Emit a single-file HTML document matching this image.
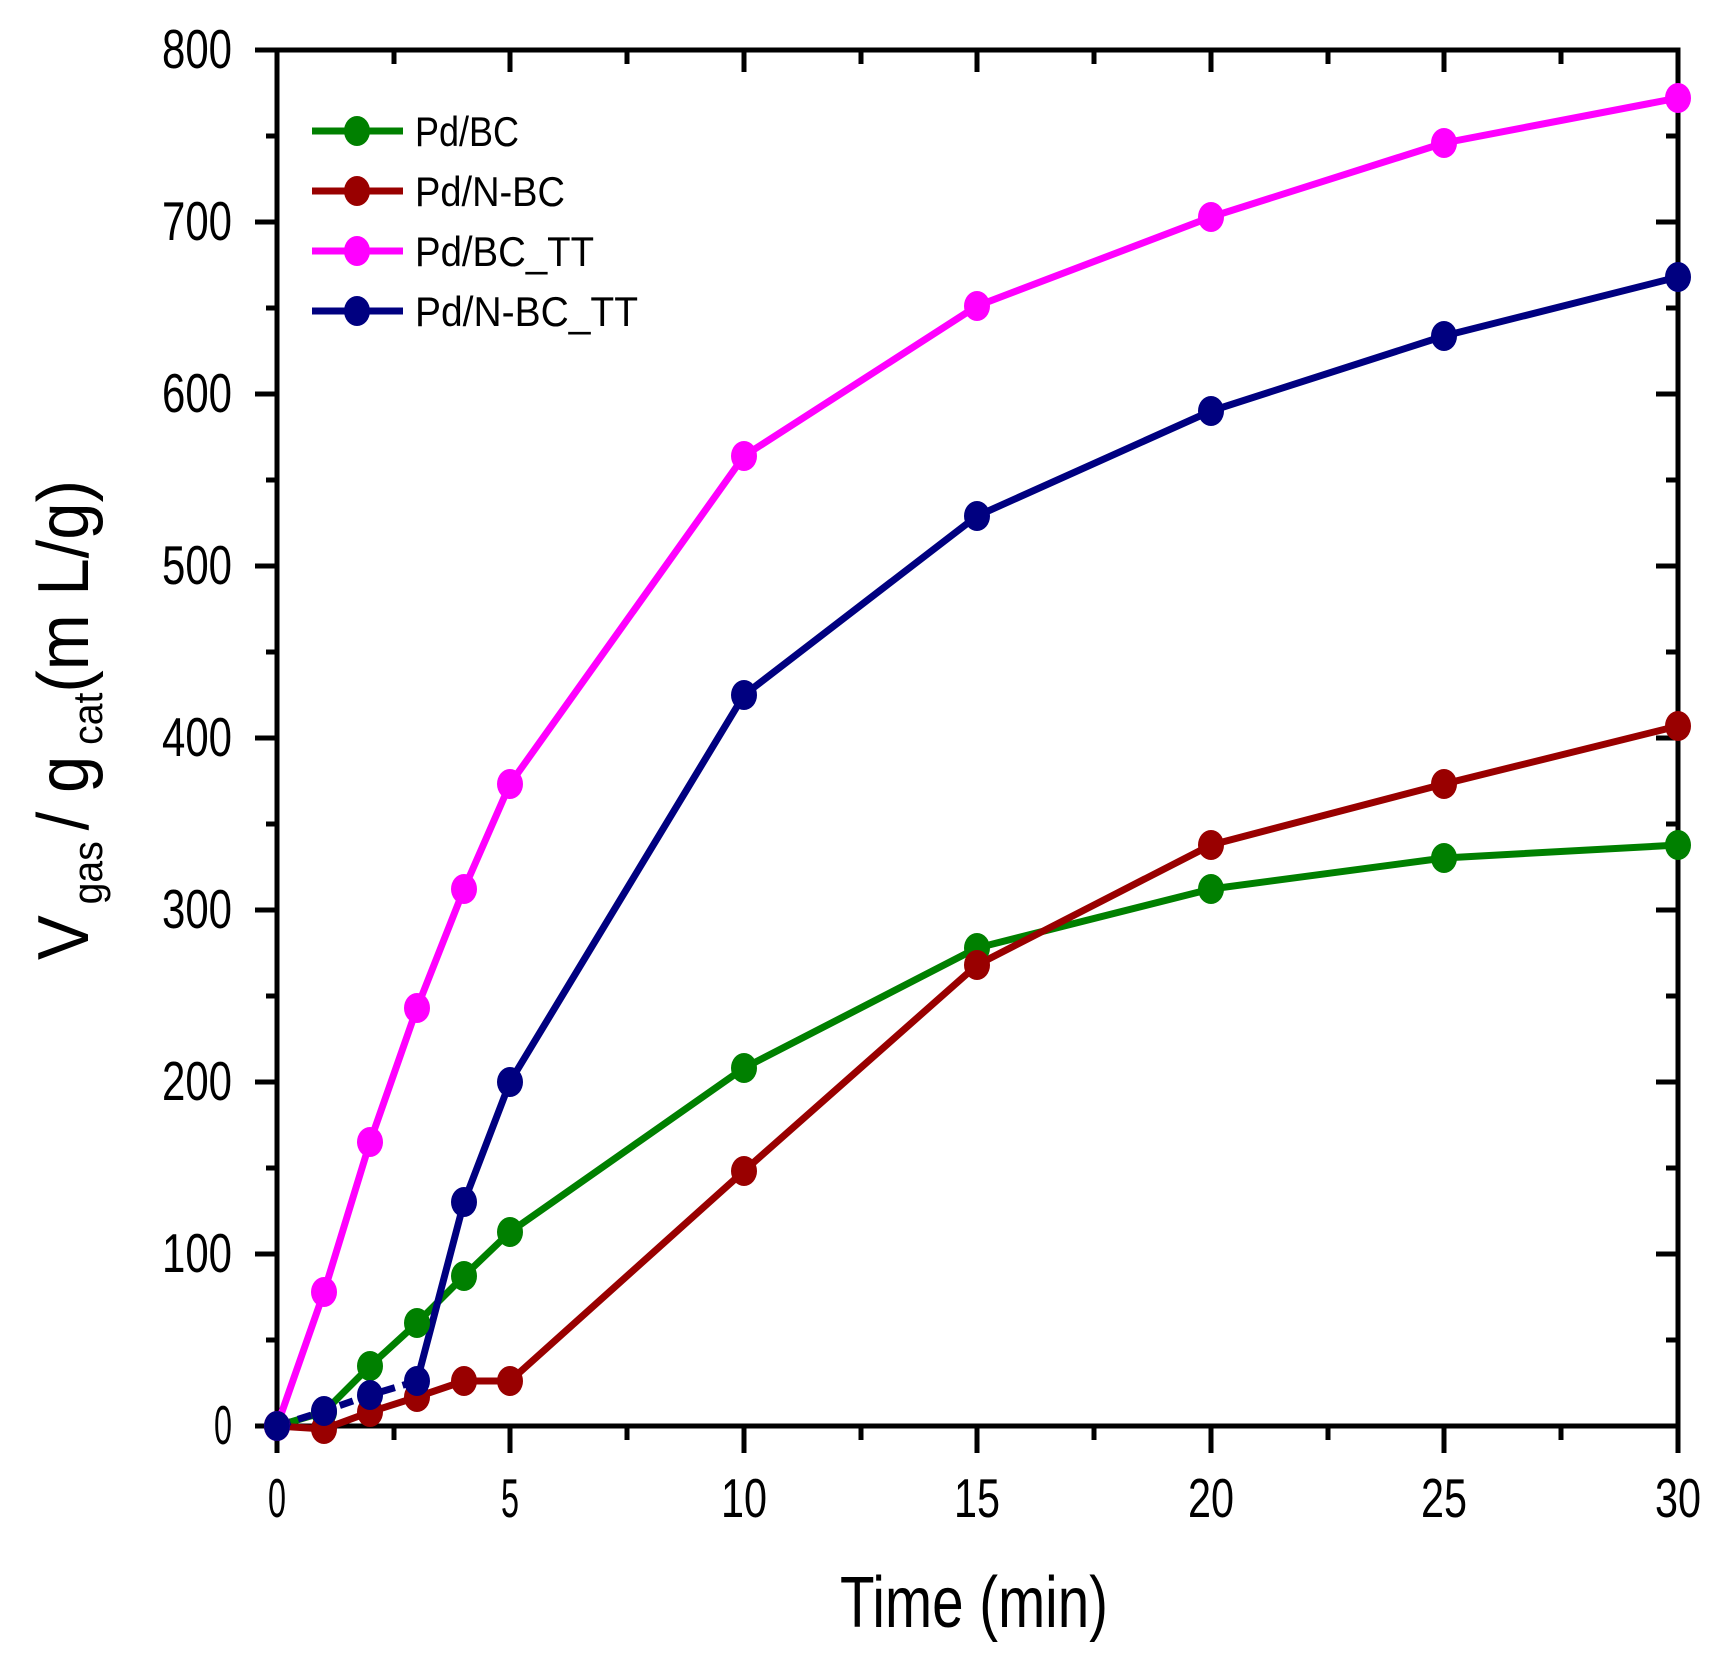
<!DOCTYPE html>
<html><head><meta charset="utf-8"><style>html,body{margin:0;padding:0;background:#fff}svg{display:block}</style></head>
<body>
<svg width="1727" height="1660" viewBox="0 0 1727 1660" xmlns="http://www.w3.org/2000/svg" font-family="Liberation Sans, sans-serif">
<rect width="1727" height="1660" fill="#fff"/>
<g stroke="#000" stroke-width="5">
<path d="M255 50H277M266 136H277M255 222H277M266 308H277M255 394H277M266 480H277M255 566H277M266 652H277M255 738H277M266 824H277M255 910H277M266 996H277M255 1082H277M266 1168H277M255 1254H277M266 1340H277M255 1426H277"/>
<path d="M1666 136H1678M1656 222H1678M1666 308H1678M1656 394H1678M1666 480H1678M1656 566H1678M1666 652H1678M1656 738H1678M1666 824H1678M1656 910H1678M1666 996H1678M1656 1082H1678M1666 1168H1678M1656 1254H1678M1666 1340H1678"/>
<path d="M277 1426V1453M394 1426V1440M510 1426V1453M627 1426V1440M744 1426V1453M861 1426V1440M977 1426V1453M1094 1426V1440M1211 1426V1453M1328 1426V1440M1444 1426V1453M1561 1426V1440M1678 1426V1453"/>
<path d="M394 50V64M510 50V72M627 50V64M744 50V72M861 50V64M977 50V72M1094 50V64M1211 50V72M1328 50V64M1444 50V72M1561 50V64"/>
<rect x="277" y="50" width="1401" height="1376" fill="none"/>
</g>
<g font-size="55" fill="#000" text-anchor="end">
<text x="232" y="68" textLength="70" lengthAdjust="spacingAndGlyphs">800</text>
<text x="232" y="240" textLength="70" lengthAdjust="spacingAndGlyphs">700</text>
<text x="232" y="412" textLength="70" lengthAdjust="spacingAndGlyphs">600</text>
<text x="232" y="584" textLength="70" lengthAdjust="spacingAndGlyphs">500</text>
<text x="232" y="756" textLength="70" lengthAdjust="spacingAndGlyphs">400</text>
<text x="232" y="928" textLength="70" lengthAdjust="spacingAndGlyphs">300</text>
<text x="232" y="1100" textLength="70" lengthAdjust="spacingAndGlyphs">200</text>
<text x="232" y="1272" textLength="70" lengthAdjust="spacingAndGlyphs">100</text>
<text x="232" y="1444" textLength="18" lengthAdjust="spacingAndGlyphs">0</text>
</g>
<g font-size="55" fill="#000" text-anchor="middle">
<text x="277" y="1517" textLength="18" lengthAdjust="spacingAndGlyphs">0</text>
<text x="510" y="1517" textLength="18" lengthAdjust="spacingAndGlyphs">5</text>
<text x="744" y="1517" textLength="46" lengthAdjust="spacingAndGlyphs">10</text>
<text x="977" y="1517" textLength="46" lengthAdjust="spacingAndGlyphs">15</text>
<text x="1211" y="1517" textLength="46" lengthAdjust="spacingAndGlyphs">20</text>
<text x="1444" y="1517" textLength="46" lengthAdjust="spacingAndGlyphs">25</text>
<text x="1678" y="1517" textLength="46" lengthAdjust="spacingAndGlyphs">30</text>
</g>
<text x="840" y="1627" font-size="72" textLength="268" lengthAdjust="spacingAndGlyphs">Time (min)</text>
<text transform="translate(88,960) rotate(-90)" font-size="72" textLength="480" lengthAdjust="spacingAndGlyphs">V<tspan font-size="42" dy="14"> gas </tspan><tspan dy="-14"> / g</tspan><tspan font-size="42" dy="14"> cat</tspan><tspan dy="-14">(m L/g)</tspan></text>

<g fill="none" stroke-width="7" stroke-linejoin="round">
<polyline stroke="#008000" points="277,1426 324,1412 370,1366 417,1323 464,1276 510,1232 744,1068 977,948 1211,889 1444,858 1678,845"/>
<polyline stroke="#990000" points="277,1426 324,1429 370,1412 417,1397 464,1381 510,1381 744,1171 977,965 1211,845 1444,784 1678,726"/>
<polyline stroke="#ff00ff" points="277,1426 324,1292 370,1142 417,1008 464,889 510,784 744,456 977,306 1211,217 1444,143 1678,98"/>
<polyline stroke="#000080" stroke-dasharray="14,8" points="277,1426 324,1411 370,1395 417,1381"/>
<polyline stroke="#000080" points="417,1381 464,1202 510,1082 744,695 977,516 1211,411 1444,336 1678,277"/>
</g>
<g fill="#008000"><ellipse cx="277" cy="1426" rx="13" ry="15"/><ellipse cx="324" cy="1412" rx="13" ry="15"/><ellipse cx="370" cy="1366" rx="13" ry="15"/><ellipse cx="417" cy="1323" rx="13" ry="15"/><ellipse cx="464" cy="1276" rx="13" ry="15"/><ellipse cx="510" cy="1232" rx="13" ry="15"/><ellipse cx="744" cy="1068" rx="13" ry="15"/><ellipse cx="977" cy="948" rx="13" ry="15"/><ellipse cx="1211" cy="889" rx="13" ry="15"/><ellipse cx="1444" cy="858" rx="13" ry="15"/><ellipse cx="1678" cy="845" rx="13" ry="15"/></g>
<g fill="#990000"><ellipse cx="277" cy="1426" rx="13" ry="15"/><ellipse cx="324" cy="1429" rx="13" ry="15"/><ellipse cx="370" cy="1412" rx="13" ry="15"/><ellipse cx="417" cy="1397" rx="13" ry="15"/><ellipse cx="464" cy="1381" rx="13" ry="15"/><ellipse cx="510" cy="1381" rx="13" ry="15"/><ellipse cx="744" cy="1171" rx="13" ry="15"/><ellipse cx="977" cy="965" rx="13" ry="15"/><ellipse cx="1211" cy="845" rx="13" ry="15"/><ellipse cx="1444" cy="784" rx="13" ry="15"/><ellipse cx="1678" cy="726" rx="13" ry="15"/></g>
<g fill="#ff00ff"><ellipse cx="277" cy="1426" rx="13" ry="15"/><ellipse cx="324" cy="1292" rx="13" ry="15"/><ellipse cx="370" cy="1142" rx="13" ry="15"/><ellipse cx="417" cy="1008" rx="13" ry="15"/><ellipse cx="464" cy="889" rx="13" ry="15"/><ellipse cx="510" cy="784" rx="13" ry="15"/><ellipse cx="744" cy="456" rx="13" ry="15"/><ellipse cx="977" cy="306" rx="13" ry="15"/><ellipse cx="1211" cy="217" rx="13" ry="15"/><ellipse cx="1444" cy="143" rx="13" ry="15"/><ellipse cx="1678" cy="98" rx="13" ry="15"/></g>
<g fill="#000080"><ellipse cx="277" cy="1426" rx="13" ry="15"/><ellipse cx="324" cy="1411" rx="13" ry="15"/><ellipse cx="370" cy="1395" rx="13" ry="15"/><ellipse cx="417" cy="1381" rx="13" ry="15"/><ellipse cx="464" cy="1202" rx="13" ry="15"/><ellipse cx="510" cy="1082" rx="13" ry="15"/><ellipse cx="744" cy="695" rx="13" ry="15"/><ellipse cx="977" cy="516" rx="13" ry="15"/><ellipse cx="1211" cy="411" rx="13" ry="15"/><ellipse cx="1444" cy="336" rx="13" ry="15"/><ellipse cx="1678" cy="277" rx="13" ry="15"/></g>

<g stroke-width="7">
<line x1="312" y1="131" x2="403" y2="131" stroke="#008000"/>
<line x1="312" y1="191" x2="403" y2="191" stroke="#990000"/>
<line x1="312" y1="251" x2="403" y2="251" stroke="#ff00ff"/>
<line x1="312" y1="311" x2="403" y2="311" stroke="#000080"/>
</g>
<ellipse cx="357" cy="131" rx="13" ry="15" fill="#008000"/>
<ellipse cx="357" cy="191" rx="13" ry="15" fill="#990000"/>
<ellipse cx="357" cy="251" rx="13" ry="15" fill="#ff00ff"/>
<ellipse cx="357" cy="311" rx="13" ry="15" fill="#000080"/>
<g font-size="42" fill="#000">
<text x="415" y="146" textLength="104" lengthAdjust="spacingAndGlyphs">Pd/BC</text>
<text x="415" y="206" textLength="150" lengthAdjust="spacingAndGlyphs">Pd/N-BC</text>
<text x="415" y="266" textLength="179" lengthAdjust="spacingAndGlyphs">Pd/BC_TT</text>
<text x="415" y="326" textLength="223" lengthAdjust="spacingAndGlyphs">Pd/N-BC_TT</text>
</g>
</svg>
</body></html>
